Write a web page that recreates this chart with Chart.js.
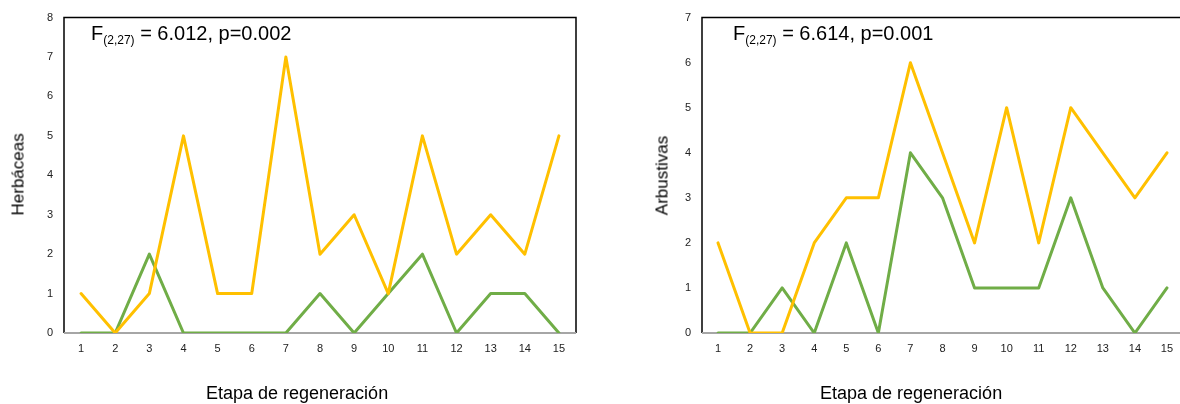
<!DOCTYPE html>
<html><head><meta charset="utf-8">
<script src="https://cdn.jsdelivr.net/npm/chart.js@4.4.0/dist/chart.umd.min.js"></script>
<style>
html,body{margin:0;padding:0;width:1180px;height:404px;overflow:hidden;background:#fff;font-family:"Liberation Sans",Arial,sans-serif;}
.box{position:absolute;top:0;height:404px;}
.txt{position:absolute;color:#000;white-space:nowrap;line-height:1;}
.ann{font-size:20px;}
.ann sub{font-size:12px;vertical-align:-4px;}
.xt{font-size:18px;}
.yt{font-size:17px;transform:rotate(-90deg);transform-origin:center center;}
</style></head>
<body>
<div class="box" style="left:0;width:600px;"><canvas id="c1"></canvas></div>
<div class="box" style="left:640px;width:560px;"><canvas id="c2"></canvas></div>
<div class="txt ann" style="left:91px;top:23px;">F<sub>(2,27)</sub> = 6.012, p=0.002</div>
<div class="txt ann" style="left:733px;top:23px;">F<sub>(2,27)</sub> = 6.614, p=0.001</div>
<div class="txt xt" style="left:206px;top:384px;">Etapa de regeneración</div>
<div class="txt xt" style="left:820px;top:384px;">Etapa de regeneración</div>
<div class="txt yt" style="left:-22px;top:167px;width:80px;text-align:center;">Herbáceas</div>
<div class="txt yt" style="left:622px;top:167px;width:80px;text-align:center;">Arbustivas</div>
<script>
const etapas = ["1","2","3","4","5","6","7","8","9","10","11","12","13","14","15"];
const herbYellow = [1,0,1,5,1,1,7,2,3,1,5,2,3,2,5];
const herbGreen  = [0,0,2,0,0,0,0,1,0,1,2,0,1,1,0];
const arbYellow  = [2,0,0,2,3,3,6,4,2,5,2,5,4,3,4];
const arbGreen   = [0,0,1,0,2,0,4,3,1,1,1,3,1,0,1];
const herbMax = 8, arbMax = 7;

const framePlugin = {
  id:'frame',
  beforeDatasetsDraw(chart){
    const a = chart.chartArea, ctx = chart.ctx;
    ctx.save();
    ctx.strokeStyle = '#000'; ctx.lineWidth = 1.5;
    ctx.beginPath();
    ctx.moveTo(a.left, a.bottom); ctx.lineTo(a.left, a.top); ctx.lineTo(a.right, a.top); ctx.lineTo(a.right, a.bottom);
    ctx.stroke();
    ctx.strokeStyle = '#a6a6a6'; ctx.lineWidth = 2;
    ctx.beginPath(); ctx.moveTo(a.left, a.bottom); ctx.lineTo(a.right, a.bottom); ctx.stroke();
    ctx.restore();
  }
};

function make(id, yellow, green, ymax, yw, pad){
  new Chart(document.getElementById(id), {
    type:'line',
    data:{labels:etapas, datasets:[
      {data:yellow, borderColor:'#FFC000', borderWidth:3, borderJoinStyle:'round', borderCapStyle:'round', pointRadius:0, tension:0, fill:false},
      {data:green, borderColor:'#70AD47', borderWidth:3, borderJoinStyle:'round', borderCapStyle:'round', pointRadius:0, tension:0, fill:false}
    ]},
    options:{
      responsive:true, maintainAspectRatio:false, animation:false,
      layout:{padding:pad},
      plugins:{legend:{display:false}, tooltip:{enabled:false}},
      scales:{
        x:{offset:true, grid:{display:false, drawTicks:false}, border:{display:false},
           ticks:{color:'#222', font:{family:'Liberation Sans', size:11}, padding:9, maxRotation:0, autoSkip:false},
           afterFit(s){ s.height = 71; }},
        y:{min:0, max:ymax, grid:{display:false, drawTicks:false}, border:{display:false},
           ticks:{stepSize:1, color:'#222', font:{family:'Liberation Sans', size:11}, padding:11},
           afterFit(s){ s.width = yw; }}
      }
    },
    plugins:[framePlugin]
  });
}
make('c1', herbYellow, herbGreen, herbMax, 64, {top:17, right:24, left:0, bottom:0});
make('c2', arbYellow, arbGreen, arbMax, 62, {top:14, right:17, left:0, bottom:0});
</script>
</body></html>
